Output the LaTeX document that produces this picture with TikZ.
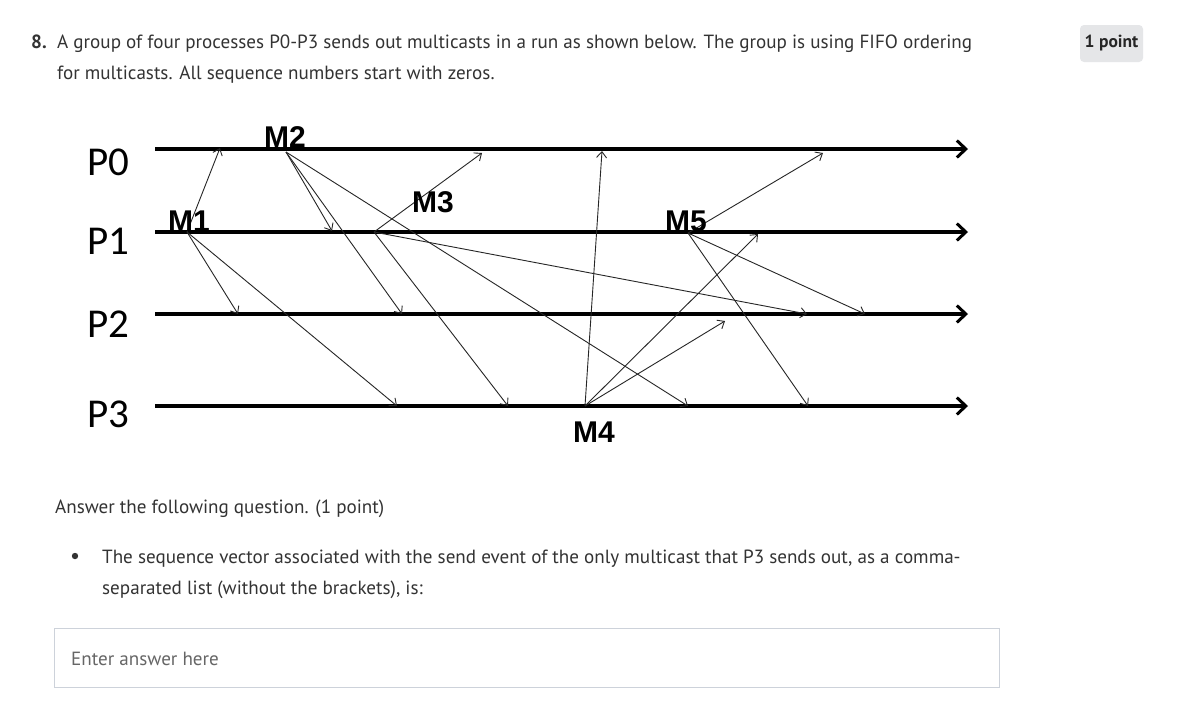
\documentclass[tikz,border=0pt]{standalone}
\usepackage{fontspec}
\usepackage{xcolor}
\usetikzlibrary{arrows.meta, positioning}
\setmainfont{PT Sans}
\newfontfamily\labelfont{Liberation Sans}[BoldFont={Liberation Sans Bold}]
\newfontfamily\procfont{Carlito}
\definecolor{textgray}{HTML}{333333}
\definecolor{hintgray}{HTML}{666666}
\definecolor{boxline}{HTML}{CDD2DA}
\definecolor{badgefill}{HTML}{E5E6E8}

\begin{document}
\begin{tikzpicture}[x=1pt, y=-1pt,
    proc/.style={line width=3.2pt, -{Straight Barb[length=9pt, width=17pt, line width=3pt]}},
    msg/.style={line width=0.9pt, draw=black!85, -{Straight Barb[length=6pt, width=10pt]}},
    mlabel/.style={font=\labelfont\bfseries\fontsize{30}{30}\selectfont, inner sep=0pt},
    plabel/.style={font=\procfont\fontsize{41}{41}\selectfont, inner sep=0pt, anchor=west},
    body/.style={font=\fontsize{19.1}{23}\selectfont, text=textgray, inner sep=0pt, anchor=base west}]

    \fill[white] (0,0) rectangle (1190,710);
    \useasboundingbox (0,0) rectangle (1190,710);

    % question text
    \node[body, font=\bfseries\fontsize{19.1}{23}\selectfont] (num) at (31, 48.5) {8.};
    \node[body] (q1) at (57, 48.5) {A group of four processes P0-P3 sends out multicasts in a run as shown below. The group is using FIFO ordering};
    \node[body] (q2) at (57, 79) {for multicasts. All sequence numbers start with zeros.};
    \node[rounded corners=4pt, fill=badgefill, minimum width=63pt, minimum height=37pt, inner sep=0pt,
        font=\bfseries\fontsize{17.5}{17.5}\selectfont, text=black!85] (badge) at (1111.5, 43.5) {1 point};

    % processes
    \node[plabel] (P0) at (87, 162) {P0};
    \node[plabel] (P1) at (87, 241) {P1};
    \node[plabel] (P2) at (87, 324) {P2};
    \node[plabel] (P3) at (87, 414) {P3};
    \coordinate (p0a) at (155, 149);  \coordinate (p0b) at (968, 149);
    \coordinate (p1a) at (155, 232);  \coordinate (p1b) at (968, 232);
    \coordinate (p2a) at (155, 314);  \coordinate (p2b) at (968, 314);
    \coordinate (p3a) at (155, 406);  \coordinate (p3b) at (968, 406);
    \draw[proc] (p0a) -- (p0b);
    \draw[proc] (p1a) -- (p1b);
    \draw[proc] (p2a) -- (p2b);
    \draw[proc] (p3a) -- (p3b);

    % send events
    \coordinate (m1) at (187, 232);
    \coordinate (m2) at (286, 152);
    \coordinate (m3) at (374, 232);
    \coordinate (m4) at (585, 406);
    \coordinate (m5) at (688, 233);

    % receive events
    \coordinate (m1a) at (220, 148);  \coordinate (m1b) at (238, 314);  \coordinate (m1c) at (397, 406);
    \coordinate (m2a) at (332, 231);  \coordinate (m2b) at (402, 314);  \coordinate (m2c) at (688, 406);
    \coordinate (m3a) at (482, 153);  \coordinate (m3b) at (807, 314);  \coordinate (m3c) at (508, 406);
    \coordinate (m4a) at (602, 151);  \coordinate (m4b) at (758, 234);  \coordinate (m4c) at (725, 321);
    \coordinate (m5a) at (823, 153);  \coordinate (m5b) at (865, 314);  \coordinate (m5c) at (808, 406);

    \path (m1) edge[msg] (m1a) edge[msg] (m1b) edge[msg] (m1c);
    \path (m2) edge[msg] (m2a) edge[msg] (m2b) edge[msg] (m2c);
    \path (m3) edge[msg] (m3a) edge[msg] (m3b) edge[msg] (m3c);
    \path (m4) edge[msg] (m4a) edge[msg] (m4b) edge[msg] (m4c);
    \path (m5) edge[msg] (m5a) edge[msg] (m5b) edge[msg] (m5c);

    % message labels
    \node[mlabel] (M1) at (189, 221) {M1};
    \node[mlabel] (M2) at (285, 137) {M2};
    \node[mlabel] (M3) at (433, 202) {M3};
    \node[mlabel] (M4) at (594, 432) {M4};
    \node[mlabel] (M5) at (686, 221) {M5};

    % answer part
    \node[body] (ask) at (55, 513) {Answer the following question. (1 point)};
    \fill[textgray] (75, 556) circle (3.2pt);
    \node[body] (b1) at (102, 563) {The sequence vector associated with the send event of the only multicast that P3 sends out, as a comma-};
    \node[body] (b2) at (102, 594) {separated list (without the brackets), is:};
    \draw[boxline, line width=1pt] (54.5, 628.5) rectangle (999.5, 687.5);
    \node[body, text=hintgray] (hint) at (71, 665) {Enter answer here};
\end{tikzpicture}
\end{document}
